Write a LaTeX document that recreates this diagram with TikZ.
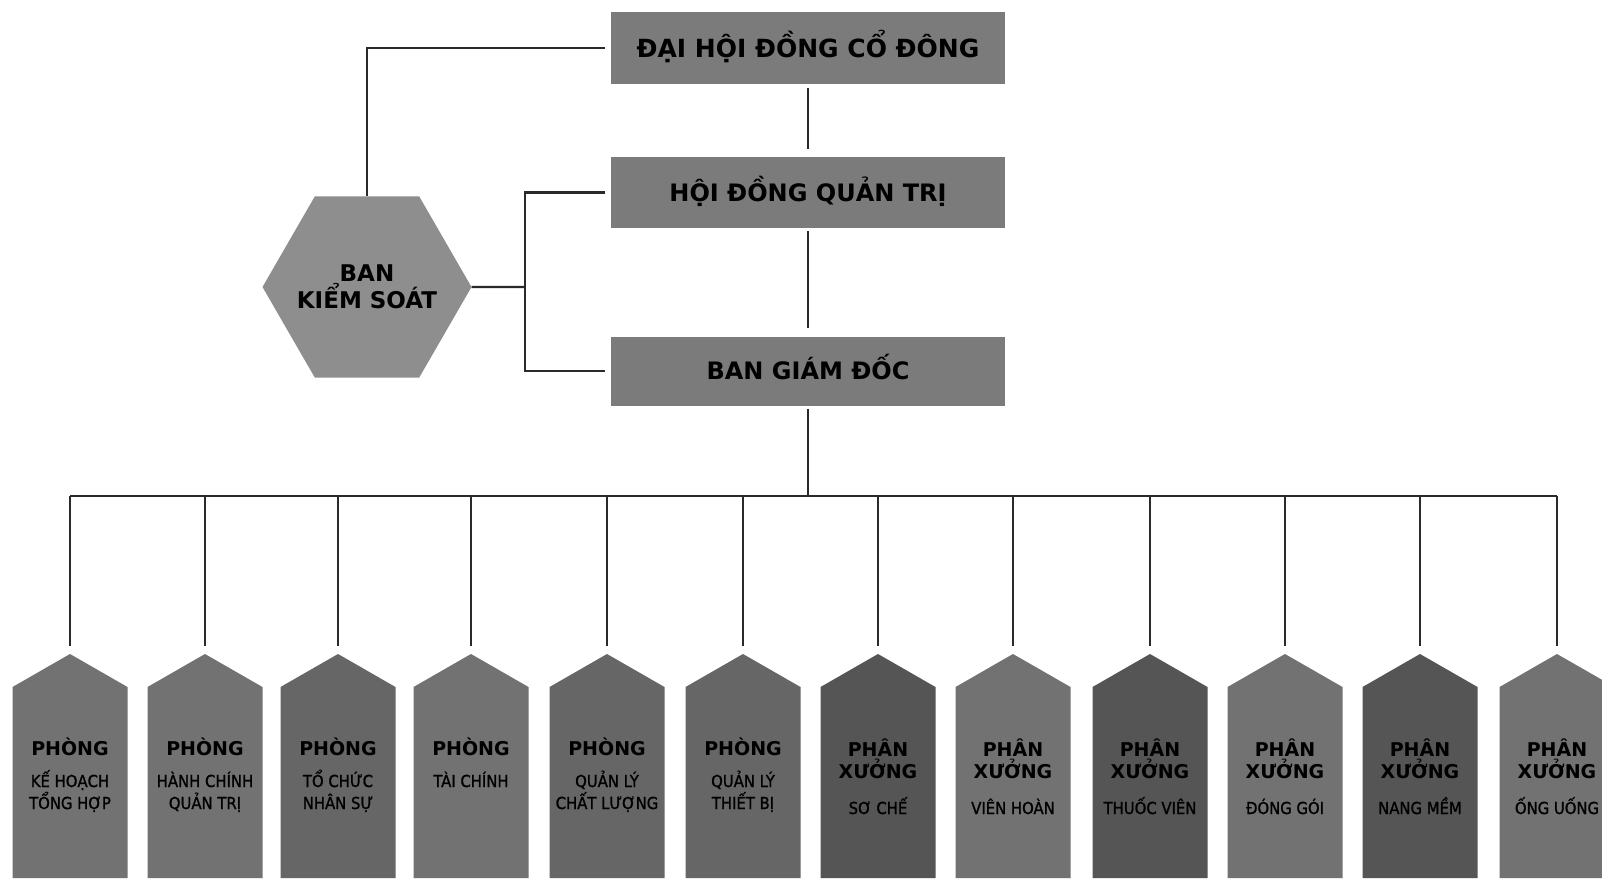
\documentclass[tikz,border=0pt]{standalone}
\usepackage{fontspec}
\usetikzlibrary{shapes.geometric,calc}
\newfontfamily\hfont{DejaVu Sans}
\newfontfamily\subfont{DejaVu Sans Condensed}[FakeBold=1.2]
\newcommand\dhead{\hfont\bfseries\fontsize{19}{22}\selectfont}
\newcommand\dsub{\subfont\fontsize{16.5}{22}\selectfont}
\definecolor{topgrey}{HTML}{7B7B7B}
\definecolor{hexgrey}{HTML}{8E8E8E}
\definecolor{dlight}{HTML}{727272}
\definecolor{dmid}{HTML}{666666}
\definecolor{ddark}{HTML}{555555}
\definecolor{linec}{HTML}{2A2A2A}
% #1 name, #2 x, #3 fill colour, #4 baseline of last text line, #5 text
\newcommand\mkdept[5]{%
  \fill[#3] ({#2-57.5},878) -- ({#2-57.5},687) -- (#2,654) -- ({#2+57.5},687) -- ({#2+57.5},878) -- cycle;
  \coordinate (t#1) at (#2,654);
  \node[depttext] (d#1) at (#2,#4) {#5};
}
\begin{document}
\begin{tikzpicture}[x=1pt,y=-1pt,
  topbox/.style={fill=topgrey, minimum width=394pt, minimum height=72pt, inner sep=0pt,
    text height=17.5pt, text depth=0pt, text=black, font=\hfont\bfseries\fontsize{24}{28}\selectfont},
  hexa/.style={regular polygon, regular polygon sides=6, minimum size=209pt, inner sep=-14pt,
    fill=hexgrey, align=center, text=black, font=\hfont\bfseries\fontsize{23}{27}\selectfont},
  conn/.style={draw=linec, line width=2.2pt},
  depttext/.style={anchor=base, align=center, inner sep=0pt, text=black,
    font=\fontsize{16.5}{22}\selectfont}]
\fill[white] (0,0) rectangle (1602,885);
\useasboundingbox (0,0) rectangle (1602,885);

% top boxes
\node[topbox, minimum height=72pt, text height=18.2pt, font=\hfont\bfseries\fontsize{25}{30}\selectfont] (dh) at (808,48) {ĐẠI HỘI ĐỒNG CỔ ĐÔNG};
\node[topbox, minimum height=71pt] (hd) at (808,192.5) {HỘI ĐỒNG QUẢN TRỊ};
\node[topbox, minimum height=69pt] (bg) at (808,371) {BAN GIÁM ĐỐC};

% hexagon
\node[hexa] (bks) at (367,287) {BAN\\KIỂM SOÁT};

% connectors among top boxes
\draw[conn, shorten <=4pt, shorten >=8pt] (dh.south) -- (hd.north);
\draw[conn, shorten <=3pt, shorten >=8pt] (hd.south) -- (bg.north);
\draw[conn, shorten >=6pt] (bks.north) |- (dh.west);
\coordinate (j) at (525,287);
\draw[conn] (bks.east) -- (j);
\draw[conn, shorten <=6pt, shorten >=6pt] (hd.west) -| (j) |- (bg.west);

% departments
\mkdept{1}{70}{dlight}{809}{\dhead PHÒNG\\[10pt]\dsub KẾ HOẠCH\\\dsub TỔNG HỢP}
\mkdept{2}{205}{dlight}{809}{\dhead PHÒNG\\[10pt]\dsub HÀNH CHÍNH\\\dsub QUẢN TRỊ}
\mkdept{3}{338}{dmid}{809}{\dhead PHÒNG\\[10pt]\dsub TỔ CHỨC\\\dsub NHÂN SỰ}
\mkdept{4}{471}{dlight}{787}{\dhead PHÒNG\\[10pt]\dsub TÀI CHÍNH}
\mkdept{5}{607}{dmid}{809}{\dhead PHÒNG\\[10pt]\dsub QUẢN LÝ\\\dsub CHẤT LƯỢNG}
\mkdept{6}{743}{dmid}{809}{\dhead PHÒNG\\[10pt]\dsub QUẢN LÝ\\\dsub THIẾT BỊ}
\mkdept{7}{878}{ddark}{814}{\dhead PHÂN\\\dhead XƯỞNG\\[14pt]\dsub SƠ CHẾ}
\mkdept{8}{1013}{dlight}{814}{\dhead PHÂN\\\dhead XƯỞNG\\[14pt]\dsub VIÊN HOÀN}
\mkdept{9}{1150}{ddark}{814}{\dhead PHÂN\\\dhead XƯỞNG\\[14pt]\dsub THUỐC VIÊN}
\mkdept{10}{1285}{dlight}{814}{\dhead PHÂN\\\dhead XƯỞNG\\[14pt]\dsub ĐÓNG GÓI}
\mkdept{11}{1420}{ddark}{814}{\dhead PHÂN\\\dhead XƯỞNG\\[14pt]\dsub NANG MỀM}
\mkdept{12}{1557}{dlight}{814}{\dhead PHÂN\\\dhead XƯỞNG\\[14pt]\dsub ỐNG UỐNG}

% bus
\coordinate (busc) at (808,496);
\draw[conn, shorten <=3pt] (bg.south) -- (busc);
\draw[conn] (t1 |- busc) -- (t12 |- busc);
\foreach \i in {1,...,12}{
  \draw[conn, shorten >=8pt] (t\i |- busc) -- (t\i);
}
\end{tikzpicture}
\end{document}
